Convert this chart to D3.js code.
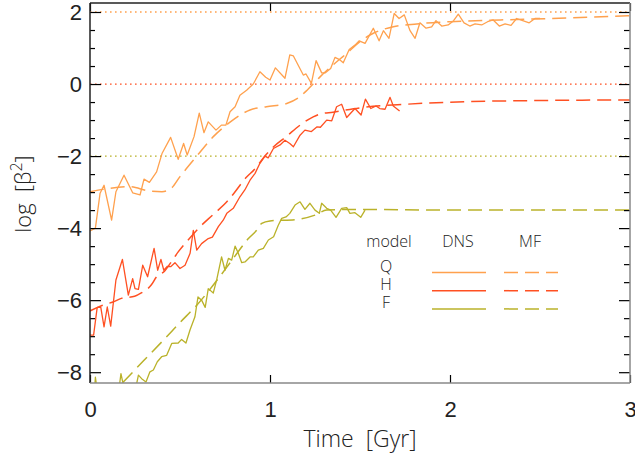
<!DOCTYPE html>
<html>
<head>
<meta charset="utf-8">
<script src="https://cdn.jsdelivr.net/npm/d3@7"></script>
<style>
  body { margin: 0; background: #fff; }
  svg { display: block; font-family: "Open Sans", "DejaVu Sans", sans-serif; font-weight: 300; }
</style>
</head>
<body>
<div id="chart"></div>
<script>
// time [Gyr], log beta^2
const qDns = [[0.0,-4.08],[0.03,-4.0],[0.056,-3.03],[0.078,-2.81],[0.12,-3.78],[0.144,-2.99],[0.189,-2.53],[0.237,-3.02],[0.278,-3.08],[0.30,-2.64],[0.33,-2.73],[0.37,-2.44],[0.40,-1.93],[0.448,-1.48],[0.49,-2.09],[0.52,-1.65],[0.54,-1.97],[0.578,-1.46],[0.607,-0.81],[0.633,-1.35],[0.657,-1.05],[0.70,-1.28],[0.73,-1.14],[0.755,-1.14],[0.778,-0.77],[0.806,-0.63],[0.833,-0.31],[0.87,-0.17],[0.907,0.0],[0.944,0.34],[0.976,0.19],[1.0,0.11],[1.03,0.45],[1.083,0.16],[1.11,0.81],[1.13,0.78],[1.185,0.25],[1.20,0.28],[1.23,0.02],[1.256,0.65],[1.287,0.31],[1.306,0.31],[1.337,0.43],[1.361,0.74],[1.389,0.67],[1.407,0.59],[1.44,0.96],[1.472,1.08],[1.496,1.2],[1.528,1.13],[1.574,1.55],[1.606,1.2],[1.63,1.48],[1.661,1.27],[1.69,1.96],[1.717,1.82],[1.746,1.92],[1.778,1.48],[1.806,1.27],[1.833,1.7],[1.867,1.55],[1.898,1.59],[1.922,1.76],[1.954,1.61],[1.99,1.64],[2.02,1.76],[2.046,1.94],[2.078,1.7],[2.11,1.61],[2.139,1.67],[2.176,1.64],[2.209,1.73],[2.24,1.78],[2.274,1.61],[2.306,1.67],[2.339,1.63],[2.37,1.82],[2.404,1.76],[2.44,1.7],[2.472,1.82],[2.5,1.82]];
const qMf = [[0.0,-2.99],[0.1,-2.9],[0.22,-2.85],[0.33,-2.97],[0.4,-2.99],[0.45,-2.9],[0.5,-2.57],[0.59,-2.02],[0.685,-1.46],[0.78,-1.05],[0.889,-0.72],[0.98,-0.63],[1.093,-0.54],[1.167,-0.35],[1.21,-0.15],[1.278,0.2],[1.35,0.53],[1.426,0.85],[1.5,1.18],[1.574,1.41],[1.685,1.59],[1.815,1.67],[2.0,1.73],[2.28,1.78],[2.56,1.82],[3.0,1.9]];
const hDns = [[0.0,-6.97],[0.02,-6.97],[0.04,-6.2],[0.06,-6.2],[0.078,-6.74],[0.096,-6.19],[0.115,-6.72],[0.144,-5.44],[0.18,-4.87],[0.213,-5.86],[0.237,-5.4],[0.25,-5.68],[0.269,-5.7],[0.293,-5.03],[0.32,-5.35],[0.356,-4.56],[0.376,-5.17],[0.394,-4.87],[0.41,-5.17],[0.43,-5.06],[0.448,-5.07],[0.472,-4.96],[0.5,-5.12],[0.528,-5.03],[0.556,-4.7],[0.574,-4.06],[0.593,-4.61],[0.62,-4.43],[0.657,-4.29],[0.68,-4.25],[0.713,-3.96],[0.74,-3.78],[0.76,-3.59],[0.796,-3.45],[0.833,-3.13],[0.86,-2.94],[0.889,-2.67],[0.917,-2.48],[0.944,-2.2],[0.972,-2.0],[0.99,-2.05],[1.019,-1.79],[1.056,-1.69],[1.083,-1.56],[1.11,-1.65],[1.13,-1.74],[1.167,-1.42],[1.194,-1.28],[1.23,-1.32],[1.26,-1.19],[1.28,-1.2],[1.315,-1.0],[1.343,-1.02],[1.37,-0.63],[1.398,-0.56],[1.426,-0.93],[1.472,-0.68],[1.506,-0.86],[1.53,-0.42],[1.56,-0.68],[1.589,-0.61],[1.61,-0.68],[1.639,-0.7],[1.667,-0.37],[1.685,-0.61],[1.72,-0.75]];
const hMf = [[0.0,-6.3],[0.07,-6.14],[0.128,-6.05],[0.174,-5.95],[0.248,-5.89],[0.285,-5.8],[0.34,-5.58],[0.37,-5.35],[0.415,-5.19],[0.45,-4.95],[0.49,-4.66],[0.55,-4.3],[0.6,-4.02],[0.685,-3.62],[0.76,-3.27],[0.8,-3.03],[0.87,-2.58],[0.91,-2.39],[0.98,-1.95],[1.02,-1.74],[1.09,-1.46],[1.167,-1.14],[1.24,-0.91],[1.28,-0.83],[1.35,-0.78],[1.5,-0.66],[1.76,-0.56],[2.09,-0.49],[2.46,-0.46],[3.0,-0.44]];
const fDns = [[0.0,-8.6],[0.025,-8.5],[0.03,-8.14],[0.04,-8.5],[0.08,-8.7],[0.12,-8.8],[0.16,-8.5],[0.172,-8.04],[0.185,-8.35],[0.23,-8.5],[0.26,-8.3],[0.269,-8.08],[0.287,-8.18],[0.311,-8.27],[0.333,-7.99],[0.352,-7.94],[0.374,-7.71],[0.398,-7.57],[0.426,-7.53],[0.454,-7.2],[0.49,-7.19],[0.509,-7.09],[0.533,-7.19],[0.556,-6.82],[0.583,-6.46],[0.6,-5.91],[0.62,-6.0],[0.64,-6.2],[0.657,-5.68],[0.685,-5.8],[0.704,-5.43],[0.731,-4.8],[0.75,-5.17],[0.769,-4.84],[0.787,-4.89],[0.806,-4.5],[0.824,-4.7],[0.843,-4.96],[0.861,-4.94],[0.889,-4.8],[0.907,-4.8],[0.935,-4.61],[0.963,-4.56],[0.991,-4.33],[1.02,-4.24],[1.046,-3.92],[1.065,-3.73],[1.089,-3.69],[1.11,-3.59],[1.139,-3.36],[1.167,-3.27],[1.194,-3.48],[1.222,-3.31],[1.25,-3.5],[1.274,-3.59],[1.287,-3.31],[1.315,-3.45],[1.337,-3.5],[1.367,-3.7],[1.398,-3.45],[1.426,-3.43],[1.444,-3.59],[1.472,-3.57],[1.504,-3.7],[1.528,-3.5]];
const fMf = [[0.1,-8.7],[0.185,-8.27],[0.3,-7.67],[0.41,-7.1],[0.5,-6.62],[0.593,-6.14],[0.713,-5.4],[0.796,-4.84],[0.88,-4.29],[0.926,-4.06],[0.954,-3.87],[1.0,-3.8],[1.148,-3.76],[1.25,-3.64],[1.315,-3.5],[1.5,-3.48],[2.0,-3.5],[3.0,-3.5]];

const models = ["Q", "H", "F"];
const colors = ["#ffa14e", "#ff5022", "#bab22a"];
const refLevels = [2, 0, -2];
const xTicks = [0, 1, 2, 3];
const yTicks = [-8, -6, -4, -2, 0, 2];

async function draw() {

  // Dimensions
  let dimensions = {
    width: 635,
    height: 457,
    margin: { top: 3, right: 5, bottom: 74, left: 90 }
  };
  dimensions.ctrWidth = dimensions.width - dimensions.margin.left - dimensions.margin.right;
  dimensions.ctrHeight = dimensions.height - dimensions.margin.top - dimensions.margin.bottom;

  const svg = d3.select("#chart")
    .append("svg")
    .attr("width", dimensions.width)
    .attr("height", dimensions.height);

  const ctr = svg.append("g")
    .attr("transform", `translate(${dimensions.margin.left}, ${dimensions.margin.top})`);

  // Scales
  const xScale = d3.scaleLinear().domain([0, 3]).range([0, dimensions.ctrWidth]);
  const yScale = d3.scaleLinear().domain([-8.3, 2.25]).range([dimensions.ctrHeight, 0]);

  svg.append("defs").append("clipPath").attr("id", "clip")
    .append("rect")
    .attr("width", dimensions.ctrWidth)
    .attr("height", dimensions.ctrHeight);

  // dotted reference levels
  ctr.selectAll(".ref")
    .data(refLevels)
    .join("line")
    .attr("x1", 0)
    .attr("x2", dimensions.ctrWidth)
    .attr("y1", d => yScale(d))
    .attr("y2", d => yScale(d))
    .attr("stroke", (d, i) => colors[i])
    .attr("stroke-width", 1.3)
    .attr("stroke-dasharray", "1.6,3.4");

  const lineGenerator = d3.line()
    .x(d => xScale(d[0]))
    .y(d => yScale(d[1]));

  const plot = ctr.append("g").attr("clip-path", "url(#clip)");
  const dns = [qDns, hDns, fDns];
  const mf = [qMf, hMf, fMf];

  mf.forEach((data, i) => {
    plot.append("path")
      .datum(data)
      .attr("d", lineGenerator.curve(d3.curveMonotoneX))
      .attr("fill", "none")
      .attr("stroke", colors[i])
      .attr("stroke-width", 1.5)
      .attr("stroke-dasharray", "14,7");
  });
  lineGenerator.curve(d3.curveLinear);
  dns.forEach((data, i) => {
    plot.append("path")
      .datum(data)
      .attr("d", lineGenerator)
      .attr("fill", "none")
      .attr("stroke", colors[i])
      .attr("stroke-width", 1.3)
      .attr("stroke-linejoin", "round");
  });

  // Axes
  const fontSize = 22;
  const yAxis = d3.axisLeft(yScale).tickValues(yTicks).tickSizeInner(-11).tickSizeOuter(0).tickPadding(8)
    .tickFormat(d => d < 0 ? "\u2212" + Math.abs(d) : d);
  const yAxisR = d3.axisRight(yScale).tickValues(yTicks).tickSizeInner(-11).tickSizeOuter(0).tickFormat("");
  const minor = d3.range(-8, 2.01, 0.5).filter(d => d % 2 !== 0);
  const yMinor = d3.axisLeft(yScale).tickValues(minor).tickSizeInner(-5).tickSizeOuter(0).tickFormat("");
  const yMinorR = d3.axisRight(yScale).tickValues(minor).tickSizeInner(-6).tickSizeOuter(0).tickFormat("");
  const xAxis = d3.axisBottom(xScale).tickValues(xTicks).tickSizeInner(-8).tickSizeOuter(0).tickPadding(18)
    .tickFormat(d3.format("d"));
  const xAxisT = d3.axisTop(xScale).tickValues(xTicks).tickSizeInner(-8).tickSizeOuter(0).tickFormat("");

  ctr.append("g").call(yAxis);
  ctr.append("g").call(yMinor);
  ctr.append("g").attr("transform", `translate(${dimensions.ctrWidth},0)`).call(yAxisR);
  ctr.append("g").attr("transform", `translate(${dimensions.ctrWidth},0)`).call(yMinorR);
  ctr.append("g").attr("transform", `translate(0,${dimensions.ctrHeight})`).call(xAxis);
  ctr.append("g").call(xAxisT);

  ctr.selectAll(".domain").remove();
  ctr.selectAll(".tick line").attr("stroke", "#000").attr("stroke-width", 1.2);
  ctr.selectAll(".tick text")
    .attr("font-size", fontSize)
    .attr("font-family", "inherit")
    .attr("fill", "#222");

  // frame: left/top dark, right/bottom grey
  const frame = [
    [0, 0, 0, dimensions.ctrHeight, "#222"],
    [0, 0, dimensions.ctrWidth, 0, "#222"],
    [dimensions.ctrWidth, 0, dimensions.ctrWidth, dimensions.ctrHeight, "#888"],
    [0, dimensions.ctrHeight, dimensions.ctrWidth, dimensions.ctrHeight, "#888"]
  ];
  ctr.selectAll(".frame")
    .data(frame)
    .join("line")
    .attr("x1", d => d[0]).attr("y1", d => d[1])
    .attr("x2", d => d[2]).attr("y2", d => d[3])
    .attr("stroke", d => d[4])
    .attr("stroke-width", 1.5);

  // Axis labels
  svg.append("text")
    .attr("x", dimensions.margin.left + dimensions.ctrWidth / 2)
    .attr("y", 447)
    .attr("text-anchor", "middle")
    .attr("font-size", 23)
    .attr("fill", "#222")
    .text("Time\u00a0 [Gyr]");

  const yLabel = svg.append("text")
    .attr("transform", "translate(31,194) rotate(-90)")
    .attr("text-anchor", "middle")
    .attr("font-size", 22)
    .attr("fill", "#222");
  yLabel.append("tspan").text("log\u00a0 [\u03b2");
  yLabel.append("tspan").attr("dy", -9).attr("font-size", 16).text("2");
  yLabel.append("tspan").attr("dy", 9).text("]");

  // Legend
  const legend = svg.append("g");
  const legendText = (x, y, t) => legend.append("text")
    .attr("x", x).attr("y", y)
    .attr("text-anchor", "middle")
    .attr("font-size", 16)
    .attr("fill", "#222")
    .text(t);
  legendText(389, 247, "model");
  legendText(458, 247, "DNS");
  legendText(530, 247, "MF");

  models.forEach((m, i) => {
    const ly = 272.5 + i * 18.2;
    legendText(386, ly - 1, m);
    legend.append("line")
      .attr("x1", 432).attr("x2", 486).attr("y1", ly).attr("y2", ly)
      .attr("stroke", colors[i]).attr("stroke-width", 1.5);
    legend.append("line")
      .attr("x1", 504).attr("x2", 558).attr("y1", ly).attr("y2", ly)
      .attr("stroke", colors[i]).attr("stroke-width", 1.5)
      .attr("stroke-dasharray", "14,7");
  });
}

draw();
</script>
</body>
</html>
